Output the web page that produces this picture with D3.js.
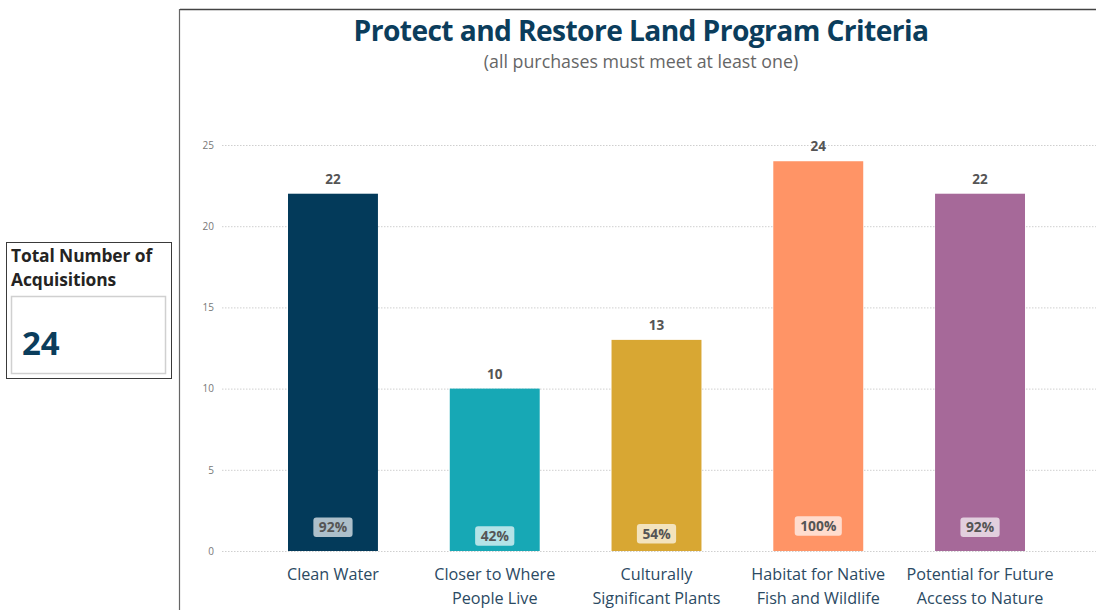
<!DOCTYPE html>
<html>
<head>
<meta charset="utf-8">
<script src="https://cdn.jsdelivr.net/npm/d3@7/dist/d3.min.js"></script>
<style>
  html, body { margin: 0; padding: 0; background: #fff; }
  svg { display: block; }
</style>
</head>
<body>
<svg id="chart" width="1096" height="610"></svg>
<script>
// Program criteria and how many acquisitions met each one
const categories = [
  ["Clean Water"],
  ["Closer to Where", "People Live"],
  ["Culturally", "Significant Plants"],
  ["Habitat for Native", "Fish and Wildlife"],
  ["Potential for Future", "Access to Nature"]
];
const counts = [22, 10, 13, 24, 22];
const percents = ["92%", "42%", "54%", "100%", "92%"];
const colors = ["#033A5A", "#17A8B5", "#D8A733", "#FF9466", "#A66999"];
const yTicks = [0, 5, 10, 15, 20, 25];
const totalAcquisitions = 24;

const svg = d3.select("#chart");
const font = "'Open Sans', 'Noto Sans', sans-serif";

// ---- KPI card on the left ----
const card = svg.append("g");
card.append("rect")
  .attr("x", 6.5).attr("y", 242.5).attr("width", 165).attr("height", 136)
  .attr("fill", "#fff").attr("stroke", "#3a3a3a").attr("stroke-width", 1);
card.append("rect")
  .attr("x", 11.5).attr("y", 296.5).attr("width", 154).attr("height", 77)
  .attr("fill", "#fff").attr("stroke", "#d0d0d0").attr("stroke-width", 1.5);
card.append("text")
  .attr("x", 11).attr("y", 262)
  .attr("font-family", font).attr("font-weight", 700).attr("font-size", 17.4)
  .attr("letter-spacing", -0.1)
  .attr("fill", "#252423").text("Total Number of");
card.append("text")
  .attr("x", 11).attr("y", 286)
  .attr("font-family", font).attr("font-weight", 700).attr("font-size", 17.4)
  .attr("letter-spacing", -0.1)
  .attr("fill", "#252423").text("Acquisitions");
card.append("text")
  .attr("x", 22).attr("y", 355)
  .attr("font-family", font).attr("font-weight", 700).attr("font-size", 33)
  .attr("fill", "#0B3D5C").text(totalAcquisitions);

// ---- Chart panel frame ----
svg.append("line")
  .attr("x1", 180).attr("x2", 1096).attr("y1", 9.5).attr("y2", 9.5)
  .attr("stroke", "#444").attr("stroke-width", 1.5);
svg.append("line")
  .attr("x1", 179.5).attr("x2", 179.5).attr("y1", 9).attr("y2", 610)
  .attr("stroke", "#666").attr("stroke-width", 1.2);

// Title and subtitle
svg.append("text")
  .attr("x", 641).attr("y", 41).attr("text-anchor", "middle")
  .attr("font-family", font).attr("font-weight", 700).attr("font-size", 28.2)
  .attr("letter-spacing", -0.6)
  .attr("fill", "#0B3D5C").text("Protect and Restore Land Program Criteria");
svg.append("text")
  .attr("x", 641).attr("y", 68).attr("text-anchor", "middle")
  .attr("font-family", font).attr("font-size", 17.8)
  .attr("fill", "#666").text("(all purchases must meet at least one)");

// ---- Scales ----
const y = d3.scaleLinear().domain([0, 25]).range([551, 145]);
const x = d3.scaleBand()
  .domain(d3.range(categories.length))
  .range([288, 1025])
  .paddingInner(0.444)
  .paddingOuter(0);

// Gridlines with tick labels
const yAxis = d3.axisLeft(y).tickValues(yTicks).tickSize(0).tickPadding(0);
const gy = svg.append("g").attr("transform", "translate(214,0)").call(yAxis);
gy.select(".domain").remove();
gy.selectAll("text")
  .attr("font-family", font).attr("font-size", 10).attr("fill", "#777");
gy.selectAll(".tick").append("line")
  .attr("x1", 8).attr("x2", 1096 - 214)
  .attr("stroke", "#cfcfcf").attr("stroke-width", 1)
  .attr("stroke-dasharray", "1.5,1.5");

// ---- Bars ----
const idx = d3.range(categories.length);
svg.append("g").selectAll("rect")
  .data(idx).join("rect")
  .attr("x", i => x(i))
  .attr("y", i => y(counts[i]))
  .attr("width", x.bandwidth())
  .attr("height", i => y(0) - y(counts[i]))
  .attr("fill", i => colors[i]);

// Count labels above bars
svg.append("g").selectAll("text")
  .data(idx).join("text")
  .attr("x", i => x(i) + x.bandwidth() / 2)
  .attr("y", i => y(counts[i]) - 10)
  .attr("text-anchor", "middle")
  .attr("font-family", font).attr("font-weight", 700).attr("font-size", 13.5)
  .attr("fill", "#555")
  .text(i => counts[i]);

// Percent badges near the base of each bar
const badges = svg.append("g").selectAll("g")
  .data(idx).join("g")
  .attr("transform", i => {
    const h = y(0) - y(counts[i]);
    const cy = y(0) - (7.9 + 0.044 * h);
    return `translate(${x(i) + x.bandwidth() / 2},${cy})`;
  });
badges.append("text")
  .attr("text-anchor", "middle").attr("dy", "0.36em")
  .attr("font-family", font).attr("font-weight", 700).attr("font-size", 13.8)
  .attr("fill", "#555")
  .text(i => percents[i])
  .each(function () {
    const bb = this.getBBox();
    d3.select(this.parentNode).insert("rect", "text")
      .attr("x", bb.x - 5.5).attr("y", -9.8)
      .attr("width", bb.width + 11).attr("height", 19.5)
      .attr("rx", 3).attr("fill", "#fff").attr("fill-opacity", 0.68);
  });

// Category labels (two lines where needed)
const labels = svg.append("g").selectAll("text")
  .data(idx).join("text")
  .attr("x", i => x(i) + x.bandwidth() / 2)
  .attr("y", 580)
  .attr("text-anchor", "middle")
  .attr("font-family", font).attr("font-size", 16.2)
  .attr("fill", "#2B4A63");
labels.selectAll("tspan")
  .data(i => categories[i]).join("tspan")
  .attr("x", function () { return d3.select(this.parentNode).attr("x"); })
  .attr("dy", (d, j) => j === 0 ? 0 : 23.5)
  .text(d => d);
</script>
</body>
</html>
